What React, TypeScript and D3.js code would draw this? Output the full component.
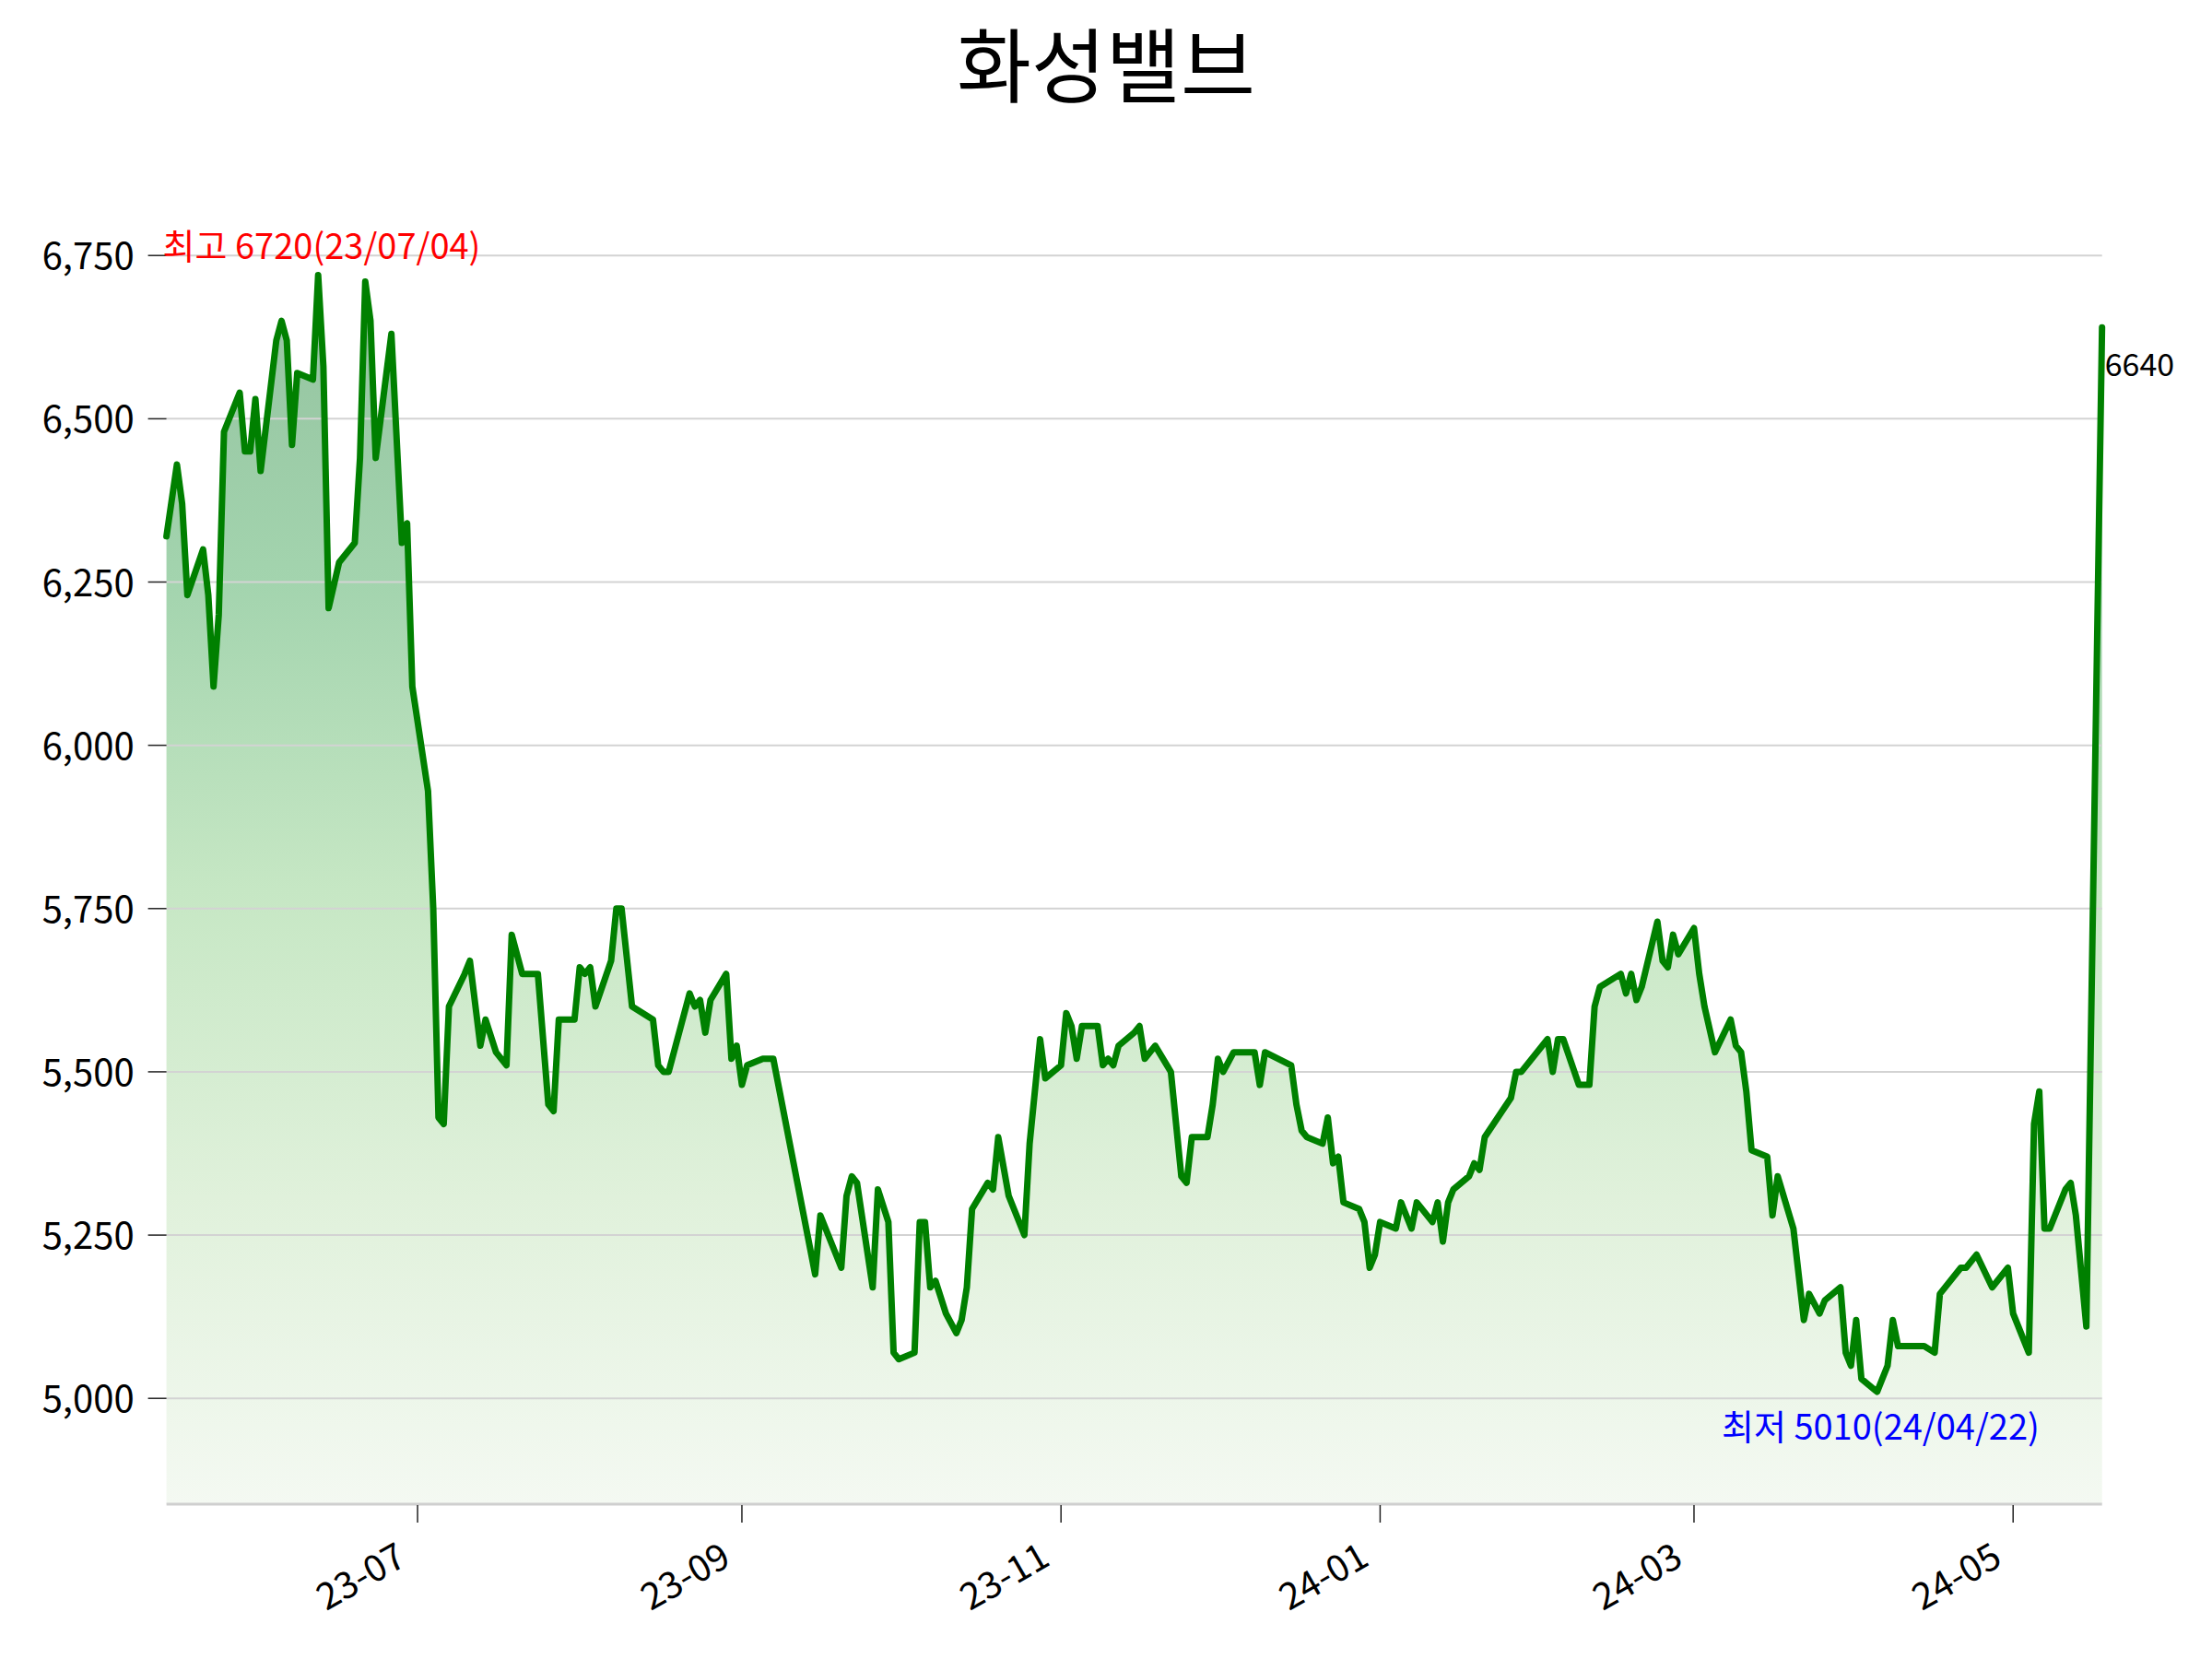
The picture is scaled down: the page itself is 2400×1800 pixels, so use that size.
import React from 'react';
import * as d3 from 'd3';

const TITLE = '화성밸브';

const dates: string[] = [
  '2023-05-14','2023-05-16','2023-05-17','2023-05-18','2023-05-21','2023-05-22','2023-05-23','2023-05-24','2023-05-25','2023-05-28','2023-05-29','2023-05-30','2023-05-31',
  '2023-06-01','2023-06-04','2023-06-05','2023-06-06','2023-06-07','2023-06-08','2023-06-11','2023-06-12','2023-06-13','2023-06-14','2023-06-16','2023-06-19','2023-06-20','2023-06-21','2023-06-22','2023-06-23','2023-06-26','2023-06-28','2023-06-29','2023-06-30',
  '2023-07-03','2023-07-04','2023-07-05','2023-07-06','2023-07-07','2023-07-10','2023-07-11','2023-07-13','2023-07-14','2023-07-16','2023-07-18','2023-07-19','2023-07-21','2023-07-24','2023-07-26','2023-07-27','2023-07-28','2023-07-31',
  '2023-08-01','2023-08-02','2023-08-03','2023-08-04','2023-08-07','2023-08-08','2023-08-09','2023-08-11','2023-08-15','2023-08-16','2023-08-17','2023-08-18','2023-08-22','2023-08-23','2023-08-24','2023-08-25','2023-08-26','2023-08-29','2023-08-30','2023-08-31',
  '2023-09-01','2023-09-02','2023-09-05','2023-09-07','2023-09-15','2023-09-16','2023-09-20','2023-09-21','2023-09-22','2023-09-23','2023-09-26','2023-09-27','2023-09-29','2023-09-30',
  '2023-10-01','2023-10-04','2023-10-05','2023-10-06','2023-10-07','2023-10-08','2023-10-10','2023-10-12','2023-10-13','2023-10-14','2023-10-15','2023-10-18','2023-10-19','2023-10-20','2023-10-22','2023-10-25','2023-10-26','2023-10-28','2023-10-29',
  '2023-11-01','2023-11-02','2023-11-03','2023-11-04','2023-11-05','2023-11-08','2023-11-09','2023-11-10','2023-11-11','2023-11-12','2023-11-15','2023-11-16','2023-11-17','2023-11-19','2023-11-22','2023-11-24','2023-11-25','2023-11-26','2023-11-29','2023-11-30',
  '2023-12-01','2023-12-02','2023-12-04','2023-12-08','2023-12-09','2023-12-10','2023-12-15','2023-12-16','2023-12-17','2023-12-18','2023-12-21','2023-12-22','2023-12-23','2023-12-24','2023-12-25','2023-12-28','2023-12-29','2023-12-30','2023-12-31',
  '2024-01-01','2024-01-04','2024-01-05','2024-01-07','2024-01-08','2024-01-11','2024-01-12','2024-01-13','2024-01-14','2024-01-15','2024-01-18','2024-01-19','2024-01-20','2024-01-21','2024-01-26','2024-01-27','2024-01-28',
  '2024-02-02','2024-02-03','2024-02-04','2024-02-05','2024-02-08','2024-02-10','2024-02-11','2024-02-12','2024-02-16','2024-02-17','2024-02-18','2024-02-19','2024-02-20','2024-02-23','2024-02-24','2024-02-25','2024-02-26','2024-02-27',
  '2024-03-01','2024-03-02','2024-03-03','2024-03-05','2024-03-08','2024-03-09','2024-03-10','2024-03-11','2024-03-12','2024-03-15','2024-03-16','2024-03-17','2024-03-20','2024-03-22','2024-03-23','2024-03-25','2024-03-26','2024-03-29','2024-03-30','2024-03-31',
  '2024-04-01','2024-04-02','2024-04-05','2024-04-07','2024-04-08','2024-04-09','2024-04-14','2024-04-16','2024-04-17','2024-04-21','2024-04-22','2024-04-24','2024-04-27','2024-04-30',
  '2024-05-01','2024-05-04','2024-05-05','2024-05-06','2024-05-07','2024-05-08','2024-05-11','2024-05-12','2024-05-13','2024-05-15','2024-05-18',
];

const prices: number[] = [
  6320,6430,6370,6230,6300,6230,6090,6200,6480,6540,6450,6450,6530,
  6420,6620,6650,6620,6460,6570,6560,6720,6580,6210,6280,6310,6440,6710,6650,6440,6630,6310,6340,6090,
  5930,5750,5430,5420,5600,5650,5670,5540,5580,5530,5510,5710,5650,5650,5450,5440,5580,5580,
  5660,5650,5660,5600,5670,5750,5750,5600,5580,5510,5500,5500,5620,5600,5610,5560,5610,5650,5520,5540,
  5480,5510,5520,5520,5190,5280,5200,5310,5340,5330,5170,5320,5270,5070,
  5060,5070,5270,5270,5170,5180,5130,5100,5120,5170,5290,5330,5320,5400,5310,5250,5390,5550,5490,
  5510,5590,5570,5520,5570,5570,5510,5520,5510,5540,5560,5570,5520,5540,5500,5340,5330,5400,5400,5450,
  5520,5500,5530,5530,5480,5530,5510,5450,5410,5400,5390,5430,5360,5370,5300,5290,5270,5200,5220,
  5270,5260,5300,5260,5300,5270,5300,5240,5300,5320,5340,5360,5350,5400,5460,5500,5500,
  5550,5500,5550,5550,5480,5480,5600,5630,5650,5620,5650,5610,5630,5730,5670,5660,5710,5680,
  5720,5650,5600,5530,5580,5540,5530,5470,5380,5370,5280,5340,5260,5120,5160,5130,5150,5170,5070,5050,
  5120,5030,5010,5050,5120,5080,5080,5070,5160,5200,5200,5220,5170,5200,
  5130,5070,5420,5470,5260,5260,5320,5330,5280,5110,6640,
];

const yTicks: number[] = [5000, 5250, 5500, 5750, 6000, 6250, 6500, 6750];
const yDomain: number[] = [4838, 6787];
const maxLabel = '최고 6720(23/07/04)';
const minLabel = '최저 5010(24/04/22)';

const W = 2400;
const H = 1800;
const PLOT = { left: 180.6, right: 2280.7, top: 251, bottom: 1632 };
const FONT = '"Noto Sans CJK KR", "Noto Sans", sans-serif';

export default function App() {
  const parse = d3.utcParse('%Y-%m-%d');
  const data = dates.map((d, i) => ({ date: parse(d) as Date, value: prices[i] }));
  const ext = d3.extent(data, (d) => d.date) as [Date, Date];
  const x = d3.scaleUtc().domain(ext).range([PLOT.left, PLOT.right]);
  const y = d3.scaleLinear().domain(yDomain).range([PLOT.bottom, PLOT.top]);

  const line = d3
    .line<{ date: Date; value: number }>()
    .x((d) => x(d.date))
    .y((d) => y(d.value));
  const area = d3
    .area<{ date: Date; value: number }>()
    .x((d) => x(d.date))
    .y0(PLOT.bottom)
    .y1((d) => y(d.value));

  const xTicks = d3.utcMonth.every(2)!.range(ext[0], ext[1]);
  const fmtX = d3.utcFormat('%y-%m');
  const fmtY = d3.format(',');

  const maxV = d3.max(prices) as number;
  const minV = d3.min(prices) as number;
  const last = data[data.length - 1];

  return (
    <svg
      width={W}
      height={H}
      viewBox={`0 0 ${W} ${H}`}
      style={{ position: 'absolute', left: 0, top: 0, background: '#fff' }}
      fontFamily={FONT}
    >
      <defs>
        <linearGradient id="fillGrad" gradientUnits="userSpaceOnUse" x1="0" x2="0" y1={y(maxV)} y2={PLOT.bottom}>
          <stop offset="0" stopColor="#93c29f" />
          <stop offset="0.25" stopColor="#a3d4ae" />
          <stop offset="0.5" stopColor="#c6e7c4" />
          <stop offset="0.75" stopColor="#e0f1db" />
          <stop offset="1" stopColor="#f4f9f2" />
        </linearGradient>
      </defs>
      <rect x={0} y={0} width={W} height={H} fill="#fff" />

      <text x={1200} y={104} textAnchor="middle" fontSize={88} fill="#000">
        {TITLE}
      </text>

      <path d={area(data) || ''} fill="url(#fillGrad)" />

      {yTicks.map((t) => (
        <g key={t}>
          <line x1={PLOT.left} x2={PLOT.right} y1={y(t)} y2={y(t)} stroke="#d3d3d3" strokeWidth={2} />
          <line x1={PLOT.left - 20} x2={PLOT.left} y1={y(t)} y2={y(t)} stroke="#222" strokeWidth={1.5} />
          <text x={PLOT.left - 35} y={y(t) + 15} textAnchor="end" fontSize={40} fill="#000">
            {fmtY(t)}
          </text>
        </g>
      ))}

      <line x1={PLOT.left} x2={PLOT.right} y1={PLOT.bottom} y2={PLOT.bottom} stroke="#cfcfcf" strokeWidth={3} />
      {xTicks.map((t) => (
        <g key={t.toISOString()}>
          <line x1={x(t)} x2={x(t)} y1={PLOT.bottom + 1} y2={PLOT.bottom + 20} stroke="#222" strokeWidth={1.5} />
          <text
            transform={`translate(${x(t) - 10},${PLOT.bottom + 65}) rotate(-30)`}
            textAnchor="end"
            fontSize={40}
            fill="#000"
          >
            {fmtX(t)}
          </text>
        </g>
      ))}

      <path
        d={line(data) || ''}
        fill="none"
        stroke="#008000"
        strokeWidth={7}
        strokeLinejoin="round"
        strokeLinecap="round"
      />

      <text x={PLOT.left - 4} y={y(maxV) - 17} fontSize={38} fill="#ff0000">
        {maxLabel}
      </text>
      <text x={1868} y={y(minV) + 52} fontSize={38} fill="#0000ff">
        {minLabel}
      </text>
      <text x={x(last.date) + 3} y={y(last.value) + 53} fontSize={34} fill="#000">
        {String(last.value)}
      </text>
    </svg>
  );
}
